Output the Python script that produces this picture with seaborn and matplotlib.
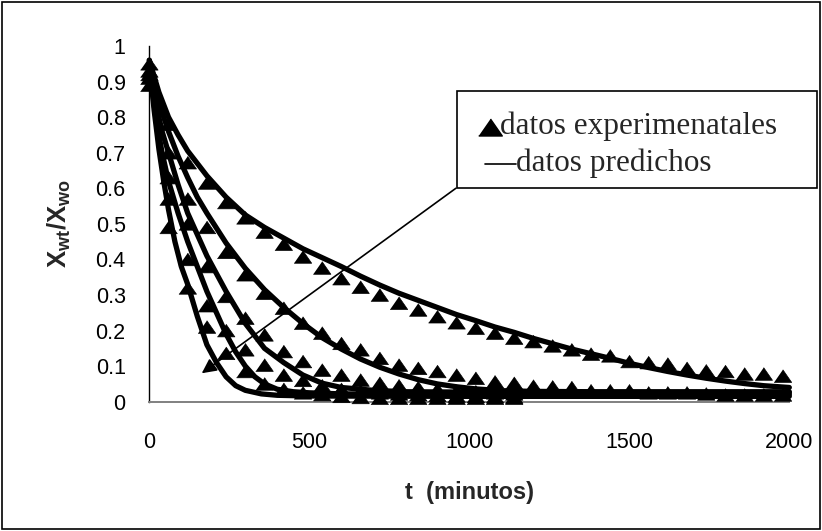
import matplotlib
matplotlib.use("Agg")
import matplotlib.pyplot as plt
import seaborn as sns
import pandas as pd
from matplotlib.patches import Rectangle
from matplotlib.lines import Line2D

# ---------------- data ----------------
t_long = list(range(0, 1981, 60))      # experimental times, long runs
t_short = list(range(0, 1141, 60))     # experimental times, short runs

A_exp = [0.95, 0.78, 0.672, 0.615, 0.56, 0.517, 0.477, 0.443, 0.407, 0.376, 0.346, 0.322,
         0.300, 0.277, 0.258, 0.239, 0.222, 0.207, 0.193, 0.179, 0.169, 0.157, 0.146, 0.134,
         0.129, 0.113, 0.110, 0.106, 0.094, 0.087, 0.085, 0.078, 0.078, 0.072]
B_exp = [0.93, 0.70, 0.57, 0.49, 0.42, 0.357, 0.305, 0.263, 0.221, 0.193, 0.164, 0.146,
         0.122, 0.103, 0.094, 0.085, 0.075, 0.066, 0.056, 0.052, 0.044, 0.042, 0.040, 0.031,
         0.031, 0.031, 0.025, 0.025, 0.025, 0.022, 0.019, 0.019, 0.019, 0.019]
C_exp = [0.92, 0.63, 0.50, 0.38, 0.296, 0.235, 0.188, 0.141, 0.113, 0.089, 0.075, 0.061,
         0.052, 0.045, 0.040, 0.035, 0.030, 0.028, 0.025, 0.022]
D_exp = [0.91, 0.57, 0.40, 0.27, 0.20, 0.146, 0.103, 0.075, 0.060, 0.045, 0.035, 0.030,
         0.025, 0.022, 0.020, 0.018, 0.016, 0.015, 0.014, 0.013]
E_exp = [0.89, 0.49, 0.32, 0.21, 0.136, 0.085, 0.050, 0.035, 0.025, 0.020, 0.015, 0.012,
         0.010, 0.010, 0.010, 0.010, 0.010, 0.010, 0.010, 0.010]

tA_pred = [0, 30, 60, 90, 120, 180, 240, 300, 360, 420, 480, 540, 600, 660, 720, 780, 840,
           900, 960, 1020, 1080, 1140, 1200, 1260, 1320, 1380, 1440, 1500, 1560, 1620, 1680,
           1740, 1800, 1860, 1920, 2000]
A_pred = [0.96, 0.87, 0.80, 0.75, 0.705, 0.635, 0.575, 0.525, 0.49, 0.46, 0.43, 0.405, 0.38,
          0.353, 0.328, 0.305, 0.285, 0.265, 0.245, 0.228, 0.21, 0.195, 0.178, 0.163, 0.148,
          0.135, 0.122, 0.108, 0.096, 0.085, 0.075, 0.066, 0.058, 0.051, 0.045, 0.04]
tB_pred = [0, 30, 60, 90, 120, 150, 180, 240, 300, 360, 420, 480, 540, 600, 660, 720, 780,
           840, 900, 960, 1020, 1100, 1200, 1400, 1600, 1800, 2000]
B_pred = [0.96, 0.84, 0.76, 0.69, 0.63, 0.575, 0.53, 0.446, 0.375, 0.315, 0.265, 0.22, 0.18,
          0.148, 0.12, 0.097, 0.078, 0.062, 0.05, 0.042, 0.036, 0.031, 0.029, 0.028, 0.028,
          0.028, 0.028]
tC_pred = [0, 20, 40, 60, 90, 120, 150, 180, 210, 240, 270, 300, 330, 360, 420, 480, 540,
           600, 700, 800, 1000, 1500, 2000]
C_pred = [0.95, 0.84, 0.76, 0.70, 0.61, 0.53, 0.47, 0.41, 0.36, 0.31, 0.265, 0.22, 0.185,
          0.15, 0.11, 0.075, 0.052, 0.04, 0.032, 0.028, 0.027, 0.026, 0.025]
tD_pred = [0, 20, 40, 60, 90, 120, 150, 180, 210, 240, 270, 300, 330, 360, 400, 450, 500,
           600, 1000, 1500, 2000]
D_pred = [0.95, 0.80, 0.70, 0.62, 0.53, 0.45, 0.38, 0.31, 0.25, 0.19, 0.14, 0.10, 0.07,
          0.05, 0.035, 0.028, 0.025, 0.022, 0.02, 0.02, 0.02]
tE_pred = [0, 15, 30, 45, 60, 80, 100, 120, 150, 180, 210, 240, 270, 300, 350, 400, 500,
           1000, 1500, 2000]
E_pred = [0.95, 0.82, 0.71, 0.62, 0.54, 0.45, 0.38, 0.33, 0.24, 0.16, 0.11, 0.07, 0.045,
          0.032, 0.022, 0.018, 0.016, 0.015, 0.015, 0.015]

x_ticks = [0, 500, 1000, 1500, 2000]
y_ticks = [0, 0.1, 0.2, 0.3, 0.4, 0.5, 0.6, 0.7, 0.8, 0.9, 1]
y_ticklabels = ["0", "0.1", "0.2", "0.3", "0.4", "0.5", "0.6", "0.7", "0.8", "0.9", "1"]
legend_labels = ["datos experimenatales", "datos predichos"]

# ---------------- frames ----------------
exp_rows = []
for name, tt, vals in [("A", t_long, A_exp), ("B", t_long, B_exp), ("C", t_short, C_exp),
                       ("D", t_short, D_exp), ("E", t_short, E_exp)]:
    for ti, v in zip(tt, vals):
        exp_rows.append({"serie": name, "t": ti, "x": v})
df_exp = pd.DataFrame(exp_rows)

pred_rows = []
for name, tt, vals in [("A", tA_pred, A_pred), ("B", tB_pred, B_pred), ("C", tC_pred, C_pred),
                       ("D", tD_pred, D_pred), ("E", tE_pred, E_pred)]:
    for ti, v in zip(tt, vals):
        pred_rows.append({"serie": name, "t": ti, "x": v})
df_pred = pd.DataFrame(pred_rows)

# ---------------- style ----------------
sns.set_style("white")
plt.rcParams["font.family"] = ["Liberation Sans", "DejaVu Sans"]
plt.rcParams["mathtext.fontset"] = "custom"
plt.rcParams["mathtext.rm"] = "Liberation Sans"
plt.rcParams["mathtext.bf"] = "Liberation Sans:bold"

W, H = 822, 531
fig = plt.figure(figsize=(W / 100, H / 100), dpi=100)
ax = fig.add_axes([149.3 / W, 1 - 401.7 / H, (789.3 - 149.3) / W, (401.7 - 46) / H])

# wide, squat triangle like the reference markers
tri = [(-1.0, -0.72), (1.0, -0.72), (0.0, 0.72)]

pal = ["black"] * 5
sns.lineplot(data=df_pred, x="t", y="x", hue="serie", palette=pal, estimator=None,
             sort=False, linewidth=3.8, legend=False, ax=ax, clip_on=False)
sns.scatterplot(data=df_exp, x="t", y="x", hue="serie", palette=pal, marker=tri, s=160,
                edgecolor="black", linewidth=0.5, legend=False, ax=ax, clip_on=False,
                zorder=3)

ax.set_xlim(0, 2000)
ax.set_ylim(0, 1)
ax.set_xticks(x_ticks)
ax.set_xticklabels([str(v) for v in x_ticks])
ax.set_yticks(y_ticks)
ax.set_yticklabels(y_ticklabels)
ax.tick_params(axis="both", direction="out", length=6, width=1, color="black",
               labelsize=15.5, labelcolor="black")
ax.tick_params(axis="y", pad=11)
ax.tick_params(axis="x", pad=16)
for s in ["top", "right"]:
    ax.spines[s].set_visible(False)
ax.spines["left"].set_color("black")
ax.spines["bottom"].set_color("#808080")
ax.spines["left"].set_linewidth(1.0)
ax.spines["bottom"].set_linewidth(1.4)

ax.set_xlabel("t  (minutos)", fontsize=17, fontweight="bold", labelpad=20)
ax.set_ylabel(r"$\mathbf{X_{wt}/X_{wo}}$", fontsize=18.5, labelpad=16)

# callout arrow from legend box to a point
ax.annotate("", xy=(164, 0.08), xytext=(958, 0.60), xycoords="data", textcoords="data",
            arrowprops=dict(arrowstyle="-|>", color="black", lw=1.2, mutation_scale=22,
                            shrinkA=0, shrinkB=0), annotation_clip=False)

# legend box (manual, in figure pixel coordinates)
def fx(px):
    return px / W

def fy(py):
    return 1 - py / H

fig.patches.append(Rectangle((fx(457), fy(188)), fx(817) - fx(457), fy(91) - fy(188),
                             transform=fig.transFigure, facecolor="white",
                             edgecolor="black", linewidth=1.2, zorder=5))
fig.lines.append(Line2D([fx(490)], [fy(127)], marker=tri, markersize=17, color="black",
                        transform=fig.transFigure, zorder=6))
fig.text(fx(500), fy(126), legend_labels[0], family=["Liberation Serif"], fontsize=22.5,
         va="center", ha="left", zorder=6)
fig.lines.append(Line2D([fx(485), fx(516)], [fy(164), fy(164)], color="black", lw=1.2,
                        transform=fig.transFigure, zorder=6))
fig.text(fx(516), fy(163), legend_labels[1], family=["Liberation Serif"], fontsize=22.5,
         va="center", ha="left", zorder=6)

# outer chart border
fig.patches.append(Rectangle((fx(2), fy(529)), fx(820) - fx(2), fy(2) - fy(529),
                             transform=fig.transFigure, facecolor="none",
                             edgecolor="black", linewidth=1.2, zorder=10))

fig.savefig("out.png", dpi=100)
